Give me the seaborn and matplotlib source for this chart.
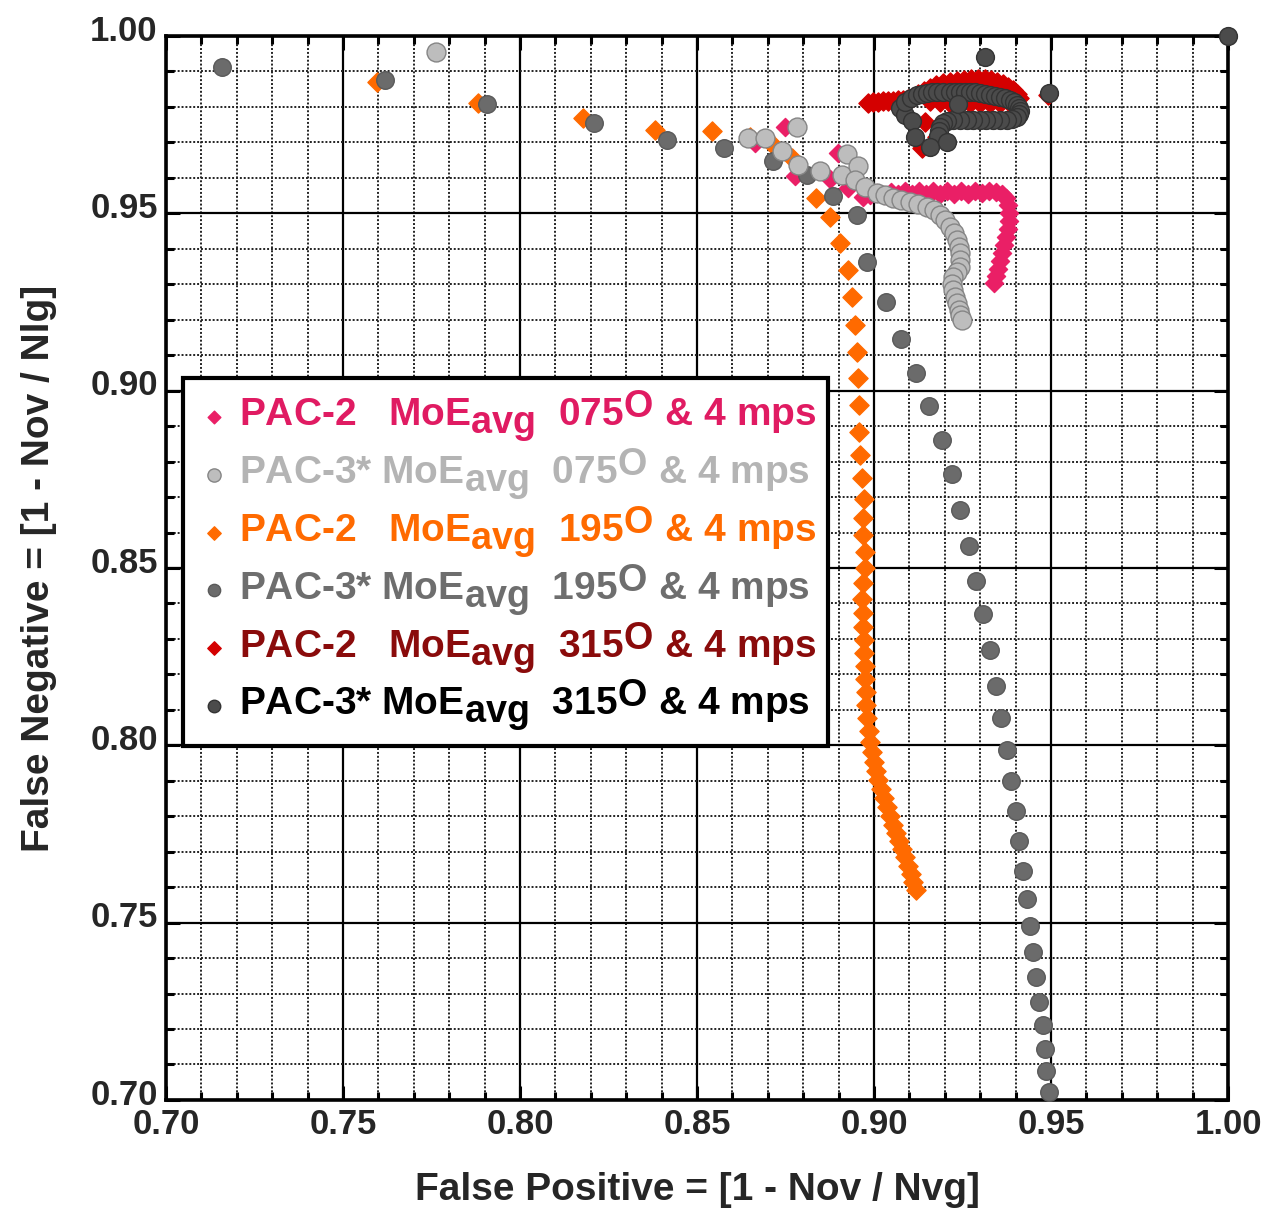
import numpy as np
import pandas as pd
import matplotlib
matplotlib.use('Agg')
import matplotlib.pyplot as plt
import matplotlib._mathtext as mathtext_internal
import matplotlib.transforms as mtransforms
import seaborn as sns
from matplotlib.ticker import MultipleLocator, FormatStrFormatter

# PAC-2 MoEavg 075 deg & 4 mps
pac2_075_x = [0.8749, 0.8664, 0.8777, 0.8876, 0.8898, 0.8927, 0.8969, 0.8989, 0.9008, 0.9028,
              0.9048, 0.9068, 0.9088, 0.9107, 0.9127, 0.9147, 0.9167, 0.9186, 0.9206, 0.9226,
              0.9246, 0.9266, 0.9285, 0.9305, 0.9325, 0.9345, 0.9362, 0.9373, 0.9379, 0.9381,
              0.9381, 0.9379, 0.9373, 0.9367, 0.9362, 0.9356, 0.9350, 0.9345, 0.9339]
pac2_075_y = [0.9743, 0.9698, 0.9605, 0.9597, 0.9670, 0.9571, 0.9546, 0.9552, 0.9557, 0.9552,
              0.9560, 0.9555, 0.9563, 0.9555, 0.9563, 0.9555, 0.9563, 0.9555, 0.9563, 0.9555,
              0.9563, 0.9555, 0.9563, 0.9557, 0.9563, 0.9560, 0.9555, 0.9543, 0.9524, 0.9501,
              0.9478, 0.9456, 0.9433, 0.9411, 0.9388, 0.9366, 0.9343, 0.9323, 0.9304]

# PAC-3* MoEavg 075 deg & 4 mps
pac3_075_x = [0.7763, 0.8644, 0.8692, 0.8740, 0.8782, 0.8785, 0.8847, 0.8910, 0.8924, 0.8955,
              0.8946, 0.8975, 0.9008, 0.9031, 0.9054, 0.9076, 0.9102, 0.9124, 0.9150, 0.9169,
              0.9186, 0.9201, 0.9215, 0.9226, 0.9234, 0.9240, 0.9243, 0.9243, 0.9243, 0.9234,
              0.9223, 0.9220, 0.9223, 0.9229, 0.9234, 0.9240, 0.9243, 0.9249]
pac3_075_y = [0.9955, 0.9712, 0.9712, 0.9676, 0.9743, 0.9636, 0.9619, 0.9608, 0.9667, 0.9633,
              0.9594, 0.9574, 0.9557, 0.9552, 0.9543, 0.9538, 0.9532, 0.9526, 0.9518, 0.9509,
              0.9495, 0.9481, 0.9462, 0.9445, 0.9425, 0.9405, 0.9388, 0.9368, 0.9349, 0.9335,
              0.9321, 0.9301, 0.9284, 0.9264, 0.9247, 0.9228, 0.9213, 0.9199]

# PAC-2 MoEavg 195 deg & 4 mps
pac2_195_x = [0.7596, 0.7881, 0.8178, 0.8381, 0.8542, 0.8650, 0.8715, 0.8768, 0.8836, 0.8876,
              0.8904, 0.8927, 0.8938, 0.8946, 0.8952, 0.8955, 0.8958, 0.8958, 0.8960, 0.8966,
              0.8972, 0.8969, 0.8969, 0.8975, 0.8975, 0.8969, 0.8966, 0.8969, 0.8969, 0.8972,
              0.8972, 0.8975, 0.8975, 0.8977, 0.8977, 0.8980, 0.8986, 0.8989, 0.8994, 0.9000,
              0.9006, 0.9011, 0.9020, 0.9028, 0.9037, 0.9045, 0.9054, 0.9062, 0.9071, 0.9079,
              0.9088, 0.9096, 0.9105, 0.9110, 0.9119]
pac2_195_y = [0.9870, 0.9811, 0.9769, 0.9735, 0.9732, 0.9715, 0.9693, 0.9656, 0.9543, 0.9490,
              0.9416, 0.9340, 0.9264, 0.9185, 0.9109, 0.9036, 0.8960, 0.8884, 0.8819, 0.8754,
              0.8695, 0.8641, 0.8593, 0.8545, 0.8500, 0.8458, 0.8413, 0.8373, 0.8334, 0.8297,
              0.8260, 0.8224, 0.8187, 0.8151, 0.8114, 0.8077, 0.8041, 0.8010, 0.7981, 0.7953,
              0.7928, 0.7902, 0.7877, 0.7852, 0.7826, 0.7801, 0.7776, 0.7753, 0.7730, 0.7708,
              0.7685, 0.7660, 0.7637, 0.7615, 0.7592]

# PAC-3* MoEavg 195 deg & 4 mps
pac3_195_x = [0.7158, 0.7619, 0.7907, 0.8209, 0.8415, 0.8576, 0.8715, 0.8811, 0.8884, 0.8952,
              0.8980, 0.9034, 0.9076, 0.9119, 0.9155, 0.9192, 0.9220, 0.9243, 0.9268, 0.9288,
              0.9308, 0.9328, 0.9345, 0.9359, 0.9376, 0.9387, 0.9401, 0.9410, 0.9421, 0.9432,
              0.9441, 0.9449, 0.9458, 0.9466, 0.9477, 0.9483, 0.9486, 0.9494]
pac3_195_y = [0.9913, 0.9876, 0.9808, 0.9755, 0.9707, 0.9684, 0.9648, 0.9608, 0.9549, 0.9495,
              0.9363, 0.9250, 0.9146, 0.9050, 0.8957, 0.8861, 0.8765, 0.8664, 0.8562, 0.8463,
              0.8370, 0.8269, 0.8167, 0.8077, 0.7987, 0.7900, 0.7815, 0.7730, 0.7646, 0.7567,
              0.7491, 0.7418, 0.7347, 0.7277, 0.7212, 0.7144, 0.7082, 0.7023]

# PAC-2 MoEavg 315 deg & 4 mps
pac2_315_x = [0.8983, 0.8997, 0.9011, 0.9025, 0.9040, 0.9054, 0.9068, 0.9082, 0.9096, 0.9110,
              0.9124, 0.9141, 0.9158, 0.9175, 0.9195, 0.9215, 0.9234, 0.9254, 0.9274, 0.9294,
              0.9314, 0.9331, 0.9347, 0.9364, 0.9379, 0.9393, 0.9404, 0.9410, 0.9384, 0.9356,
              0.9328, 0.9299, 0.9271, 0.9243, 0.9215, 0.9186, 0.9158, 0.9144, 0.9178, 0.9136,
              0.9492]
pac2_315_y = [0.9811, 0.9814, 0.9814, 0.9817, 0.9817, 0.9817, 0.9820, 0.9820, 0.9822, 0.9828,
              0.9836, 0.9845, 0.9853, 0.9862, 0.9867, 0.9870, 0.9873, 0.9876, 0.9879, 0.9879,
              0.9879, 0.9876, 0.9870, 0.9865, 0.9856, 0.9848, 0.9836, 0.9825, 0.9811, 0.9811,
              0.9811, 0.9811, 0.9811, 0.9811, 0.9811, 0.9814, 0.9817, 0.9758, 0.9715, 0.9684,
              0.9834]

# PAC-3* MoEavg 315 deg & 4 mps
pac3_315_x = [1.0000, 0.9494, 0.9314, 0.9073, 0.9088, 0.9107, 0.9088, 0.9105, 0.9121, 0.9136,
              0.9150, 0.9164, 0.9178, 0.9195, 0.9215, 0.9229, 0.9243, 0.9257, 0.9271, 0.9285,
              0.9299, 0.9314, 0.9328, 0.9342, 0.9356, 0.9370, 0.9384, 0.9395, 0.9404, 0.9410,
              0.9412, 0.9410, 0.9404, 0.9390, 0.9376, 0.9356, 0.9336, 0.9316, 0.9299, 0.9280,
              0.9263, 0.9243, 0.9223, 0.9206, 0.9195, 0.9186, 0.9184, 0.9181, 0.9237, 0.9116,
              0.9158, 0.9206]
pac3_315_y = [1.0000, 0.9839, 0.9941, 0.9797, 0.9777, 0.9760, 0.9814, 0.9825, 0.9834, 0.9836,
              0.9839, 0.9842, 0.9842, 0.9842, 0.9842, 0.9842, 0.9842, 0.9842, 0.9842, 0.9842,
              0.9839, 0.9836, 0.9834, 0.9831, 0.9828, 0.9825, 0.9820, 0.9814, 0.9805, 0.9797,
              0.9789, 0.9780, 0.9772, 0.9766, 0.9763, 0.9763, 0.9763, 0.9763, 0.9763, 0.9763,
              0.9763, 0.9763, 0.9763, 0.9760, 0.9755, 0.9743, 0.9732, 0.9718, 0.9808, 0.9715,
              0.9687, 0.9701]

labels = [r"PAC-2   MoE$_{avg}$  075$^{O}$ & 4 mps",
          r"PAC-3* MoE$_{avg}$  075$^{O}$ & 4 mps",
          r"PAC-2   MoE$_{avg}$  195$^{O}$ & 4 mps",
          r"PAC-3* MoE$_{avg}$  195$^{O}$ & 4 mps",
          r"PAC-2   MoE$_{avg}$  315$^{O}$ & 4 mps",
          r"PAC-3* MoE$_{avg}$  315$^{O}$ & 4 mps"]
text_colors = ['#e01b62', '#b4b4b4', '#ff6a00', '#6e6e6e', '#8a0b0b', '#000000']

sns.set_theme(style='white')
plt.rcParams['font.family'] = ['Liberation Sans', 'DejaVu Sans']
plt.rcParams['font.weight'] = 'bold'
plt.rcParams['axes.labelweight'] = 'bold'
plt.rcParams['mathtext.fontset'] = 'custom'
plt.rcParams['mathtext.rm'] = 'Liberation Sans:bold'
plt.rcParams['mathtext.it'] = 'Liberation Sans:bold'
plt.rcParams['mathtext.bf'] = 'Liberation Sans:bold'
# subindice "avg" y superindice "O" casi del mismo tamaño y poco desplazados
mathtext_internal.SHRINK_FACTOR = 0.97
mathtext_internal.FontConstantsBase.sup1 = 0.42
mathtext_internal.FontConstantsBase.sub1 = 0.35

fig = plt.figure(figsize=(12.71, 12.09), dpi=100)
ax = fig.add_axes([0.1306, 0.0902, 0.8356, 0.8800])

# dibujo: diamantes primero, circulos encima
series = [
    (pac2_195_x, pac2_195_y, 'D', '#ff6a00', '#ff6a00', 95, labels[2]),
    (pac2_075_x, pac2_075_y, 'D', '#ea1f66', '#ea1f66', 85, labels[0]),
    (pac2_315_x, pac2_315_y, 'D', '#d40000', '#d40000', 95, labels[4]),
    (pac3_195_x, pac3_195_y, 'o', '#6b6b6b', '#5a5a5a', 160, labels[3]),
    (pac3_075_x, pac3_075_y, 'o', '#bdbdbd', '#858585', 185, labels[1]),
    (pac3_315_x, pac3_315_y, 'o', '#4b4b4b', '#333333', 165, labels[5]),
]
for i, (xs, ys, mk, fc, ec, size, lab) in enumerate(series):
    sns.scatterplot(x=xs, y=ys, marker=mk, color=fc, edgecolor=ec, linewidth=1.0,
                    s=size, label=lab, ax=ax, zorder=3 + i, clip_on=False)

ax.set_xlim(0.70, 1.00)
ax.set_ylim(0.70, 1.00)
ax.xaxis.set_major_locator(MultipleLocator(0.05))
ax.yaxis.set_major_locator(MultipleLocator(0.05))
ax.xaxis.set_minor_locator(MultipleLocator(0.01))
ax.yaxis.set_minor_locator(MultipleLocator(0.01))
ax.xaxis.set_major_formatter(FormatStrFormatter('%.2f'))
ax.yaxis.set_major_formatter(FormatStrFormatter('%.2f'))

ax.grid(which='major', color='black', linewidth=1.6, linestyle='-')
ax.grid(which='minor', color='#222222', linewidth=1.4, linestyle=(0, (1, 1)))
ax.set_axisbelow(True)

ax.tick_params(which='both', direction='in', top=True, right=True, bottom=True, left=True,
               color='black', labelsize=25, pad=6)
ax.tick_params(which='major', length=10, width=2.2)
ax.tick_params(which='minor', length=6, width=2.2)
# etiquetas del eje y un poco por encima de su linea, como en el original
shift_up = mtransforms.ScaledTranslation(0, 6 / 72, fig.dpi_scale_trans)
for tick in ax.yaxis.get_major_ticks():
    tick.label1.set_transform(tick.label1.get_transform() + shift_up)
for lab in ax.get_xticklabels() + ax.get_yticklabels():
    lab.set_fontweight('bold')

for sp in ax.spines.values():
    sp.set_color('black')
    sp.set_linewidth(2.6)

ax.set_xlabel('False Positive = [1 - Nov / Nvg]', fontsize=28, fontweight='bold', labelpad=22)
ax.set_ylabel('False Negative = [1 - Nov / Nlg]', fontsize=28, fontweight='bold', labelpad=24)

handles, labs = ax.get_legend_handles_labels()
order = [labs.index(l) for l in labels]
leg = ax.legend([handles[k] for k in order], [labs[k] for k in order],
                loc='upper left', bbox_to_anchor=(0.016, 0.679), borderaxespad=0,
                fontsize=28, frameon=True, fancybox=False, framealpha=1,
                edgecolor='black', markerscale=0.7, handlelength=1.0,
                handletextpad=0.15, labelspacing=0.04, borderpad=0.3)
leg.get_frame().set_linewidth(3)
leg.set_zorder(20)
for t, c in zip(leg.get_texts(), text_colors):
    t.set_color(c)

fig.savefig('out.png', dpi=100)
